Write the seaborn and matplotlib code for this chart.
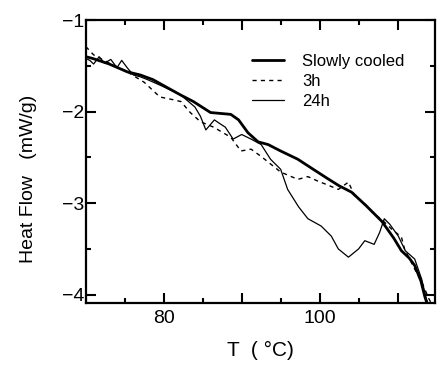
import matplotlib
matplotlib.use("Agg")
import matplotlib.pyplot as plt
import seaborn as sns
from matplotlib.ticker import MultipleLocator

sns.set_style("ticks", {"axes.edgecolor": "black", "xtick.color": "black", "ytick.color": "black",
                        "text.color": "black", "axes.labelcolor": "black"})
plt.rcParams['font.family'] = ['Liberation Sans', 'DejaVu Sans']

# Slowly cooled
t_slow = [70.0, 70.9, 73.0, 75.3, 77.0, 78.6, 80.5, 82.2, 83.8, 86.0, 88.6, 89.6, 90.8, 92.1,
          93.4, 95.0, 97.2, 99.0, 101.0, 102.5, 104.1, 106.0, 108.0, 109.5, 110.5,
          111.5, 112.2, 113.0, 113.5, 114.0]
h_slow = [-1.40, -1.42, -1.48, -1.565, -1.60, -1.65, -1.74, -1.82, -1.89, -2.01, -2.03, -2.09,
          -2.23, -2.33, -2.36, -2.43, -2.52, -2.62, -2.73, -2.81, -2.88, -3.03, -3.20,
          -3.38, -3.52, -3.60, -3.68, -3.85, -4.02, -4.15]

# 3h
t_3h = [70.0, 71.0, 73.0, 75.0, 77.5, 79.5, 81.2, 82.2, 83.4, 84.7, 86.4, 88.6, 89.9, 91.2,
        92.5, 95.0, 97.2, 98.5, 99.8, 101.0, 102.4, 103.7, 104.5, 105.7, 107.0,
        108.0, 109.2, 110.5, 110.9, 112.2, 113.1, 114.0, 114.5]
h_3h = [-1.29, -1.38, -1.47, -1.55, -1.68, -1.84, -1.87, -1.89, -2.01, -2.11, -2.17, -2.28,
        -2.43, -2.41, -2.49, -2.66, -2.74, -2.71, -2.76, -2.80, -2.85, -2.77, -2.92,
        -3.00, -3.12, -3.18, -3.28, -3.37, -3.50, -3.72, -3.86, -4.04, -4.12]

# 24h
t_24h = [70.0, 70.5, 71.0, 71.7, 72.4, 73.2, 74.0, 74.6, 75.3, 76.1, 77.0, 77.9, 79.5, 81.0,
         82.2, 84.0, 84.7, 85.4, 86.5, 87.0, 87.9, 88.9, 90.0, 91.2, 92.5, 93.7, 95.0, 95.9,
         97.3, 98.5, 100.2, 101.5, 102.4, 103.7, 105.0, 105.8, 107.0, 107.7, 108.3, 109.0,
         110.1, 111.0, 112.2, 113.1, 113.7, 114.2]
h_24h = [-1.42, -1.44, -1.48, -1.40, -1.47, -1.43, -1.52, -1.44, -1.52, -1.60, -1.62, -1.65,
         -1.71, -1.77, -1.82, -1.95, -2.05, -2.20, -2.09, -2.12, -2.17, -2.30, -2.25, -2.30,
         -2.36, -2.52, -2.63, -2.85, -3.04, -3.17, -3.25, -3.36, -3.50, -3.59, -3.50, -3.41,
         -3.45, -3.32, -3.17, -3.23, -3.36, -3.52, -3.61, -3.83, -4.05, -4.15]

fig = plt.figure(figsize=(4.38, 3.65), dpi=100)
ax = fig.add_axes([0.196, 0.170, 0.797, 0.775])

sns.lineplot(x=t_slow, y=h_slow, ax=ax, color='black', lw=2.0, sort=False, label='Slowly cooled')
sns.lineplot(x=t_3h, y=h_3h, ax=ax, color='black', lw=1.0, sort=False, label='3h',
             linestyle=(0, (3, 3)))
sns.lineplot(x=t_24h, y=h_24h, ax=ax, color='black', lw=0.9, sort=False, label='24h')

ax.set_xlim(70, 114.8)
ax.set_ylim(-4.09, -1)
ax.xaxis.set_minor_locator(MultipleLocator(5))
ax.yaxis.set_minor_locator(MultipleLocator(0.5))
ax.set_xticks([80, 90, 100, 110])
ax.set_xticklabels(['80', '', '100', ''])
ax.set_yticks([-1, -2, -3, -4])
ax.set_yticklabels(['\u22121', '\u22122', '\u22123', '\u22124'])
ax.tick_params(which='both', direction='in', top=True, right=True, width=1.5, labelsize=14)
ax.tick_params(axis='y', pad=1)
ax.tick_params(axis='x', pad=5)
ax.tick_params(which='major', length=7)
ax.tick_params(which='minor', length=3.5)
for s in ax.spines.values():
    s.set_linewidth(1.6)
    s.set_color('black')

ax.set_xlabel('T  ( \u00b0C)', fontsize=15)
ax.xaxis.set_label_coords(0.5, -0.135)
ax.set_ylabel('Heat Flow   (mW/g)', fontsize=14)
ax.yaxis.set_label_coords(-0.14, 0.44)

leg = ax.legend(loc='upper left', bbox_to_anchor=(0.476, 0.88), frameon=False, fontsize=12,
                handlelength=1.9, handletextpad=1.1, labelspacing=0.3,
                borderaxespad=0, borderpad=0)

fig.savefig('out.png', dpi=100)
